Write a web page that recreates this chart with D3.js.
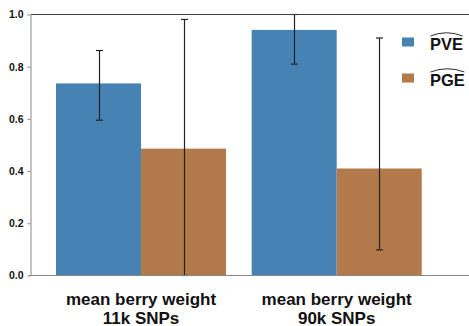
<!DOCTYPE html>
<html>
<head>
<meta charset="utf-8">
<script src="https://cdn.jsdelivr.net/npm/d3@7"></script>
<style>
  html, body { margin: 0; padding: 0; background: #fff; }
  svg { display: block; font-family: "Liberation Sans", Arial, Helvetica, sans-serif; }
</style>
</head>
<body>
<svg id="chart" width="469" height="326"></svg>
<script>
// Trait / marker-set groups shown on the x axis (two lines each)
const groups = ["mean berry weight|11k SNPs", "mean berry weight|90k SNPs"];
// Variance components per group
const components = ["PVE", "PGE"];
const pveValues = [0.736, 0.941];
const pgeValues = [0.486, 0.410];
// Error bar ends (low, high) per group
const pveLow = [0.595, 0.810];
const pveHigh = [0.862, 1.000];
const pgeLow = [0.000, 0.098];
const pgeHigh = [0.981, 0.910];
const yTicks = [0, 0.2, 0.4, 0.6, 0.8, 1.0];

const colors = { PVE: "#4682b4", PGE: "#b27a4a" };

const rows = [];
groups.forEach((g, i) => {
  rows.push({ group: g, comp: "PVE", value: pveValues[i], lo: pveLow[i], hi: pveHigh[i] });
  rows.push({ group: g, comp: "PGE", value: pgeValues[i], lo: pgeLow[i], hi: pgeHigh[i] });
});

const svg = d3.select("#chart");
const W = 469;
const axisX = 31;

const y = d3.scaleLinear().domain([0, 1]).range([275.5, 14.5]);
const x0 = d3.scaleBand().domain(groups).range([56, 421.7]).paddingInner(0.131).paddingOuter(0);
const x1 = d3.scaleBand().domain(components).range([0, x0.bandwidth()]).padding(0);

// Bars
svg.append("g").selectAll("rect").data(rows).join("rect")
  .attr("x", d => x0(d.group) + x1(d.comp))
  .attr("y", d => y(d.value))
  .attr("width", x1.bandwidth())
  .attr("height", d => y(0) - y(d.value))
  .attr("fill", d => colors[d.comp]);

// Error bars
const capW = 7;
const eb = svg.append("g").attr("stroke", "#222").attr("stroke-width", 1.2).attr("fill", "none");
rows.forEach(d => {
  const cx = Math.round(x0(d.group) + x1(d.comp) + x1.bandwidth() / 2) + 0.5;
  eb.append("line").attr("x1", cx).attr("x2", cx).attr("y1", y(d.lo)).attr("y2", y(d.hi));
  eb.append("line").attr("x1", cx - capW / 2).attr("x2", cx + capW / 2).attr("y1", y(d.lo)).attr("y2", y(d.lo));
  eb.append("line").attr("x1", cx - capW / 2).attr("x2", cx + capW / 2).attr("y1", y(d.hi)).attr("y2", y(d.hi));
});

// Frame lines: top and baseline across the plot
svg.append("line").attr("x1", axisX).attr("x2", W).attr("y1", y(1)).attr("y2", y(1))
  .attr("stroke", "#444").attr("stroke-width", 1);
svg.append("line").attr("x1", axisX - 2).attr("x2", W).attr("y1", y(0)).attr("y2", y(0))
  .attr("stroke", "#888").attr("stroke-width", 1);

// Y axis
const yAxis = svg.append("g").attr("transform", `translate(${axisX - 0.5},0)`)
  .call(d3.axisLeft(y).tickValues(yTicks).tickFormat(d3.format(".1f")).tickSize(3).tickPadding(4).tickSizeOuter(0));
yAxis.select(".domain").attr("stroke", "#888");
yAxis.selectAll(".tick line").attr("stroke", "#888");
yAxis.selectAll(".tick text")
  .attr("fill", "#111")
  .style("font-size", "10.5px")
  .style("font-weight", "bold")
  .style("font-family", "'Liberation Sans', Arial, sans-serif");

// Group labels (two lines)
const lab = svg.append("g").selectAll("text").data(groups).join("text")
  .attr("x", d => x0(d) + x0.bandwidth() / 2)
  .attr("y", 305)
  .attr("text-anchor", "middle")
  .attr("fill", "#111")
  .style("font-size", "17px")
  .style("font-weight", "bold");
lab.each(function(d) {
  const parts = d.split("|");
  const t = d3.select(this);
  t.append("tspan").attr("x", x0(d) + x0.bandwidth() / 2).attr("dy", 0).text(parts[0]);
  t.append("tspan").attr("x", x0(d) + x0.bandwidth() / 2).attr("dy", 19).text(parts[1]);
});

// Legend with hat-accented labels
const legend = svg.append("g");
components.forEach((c, i) => {
  const cy = 42 + i * 36;
  legend.append("rect").attr("x", 402).attr("y", cy - 4.5).attr("width", 12).attr("height", 9)
    .attr("fill", colors[c]);
  const txt = legend.append("text").attr("x", 430).attr("y", cy + 8)
    .attr("fill", "#111")
    .style("font-size", "16.5px")
    .style("font-weight", "bold")
    .text(c);
  const bb = txt.node().getBBox();
  const x1h = bb.x + 0.5, x2h = bb.x + bb.width - 0.5;
  const yb = cy - 6, ytop = cy - 9.5;
  legend.append("path")
    .attr("d", `M${x1h},${yb} Q${(x1h + x2h) / 2},${ytop - 3} ${x2h},${yb}`)
    .attr("fill", "none").attr("stroke", "#111").attr("stroke-width", 0.9);
});
</script>
</body>
</html>
